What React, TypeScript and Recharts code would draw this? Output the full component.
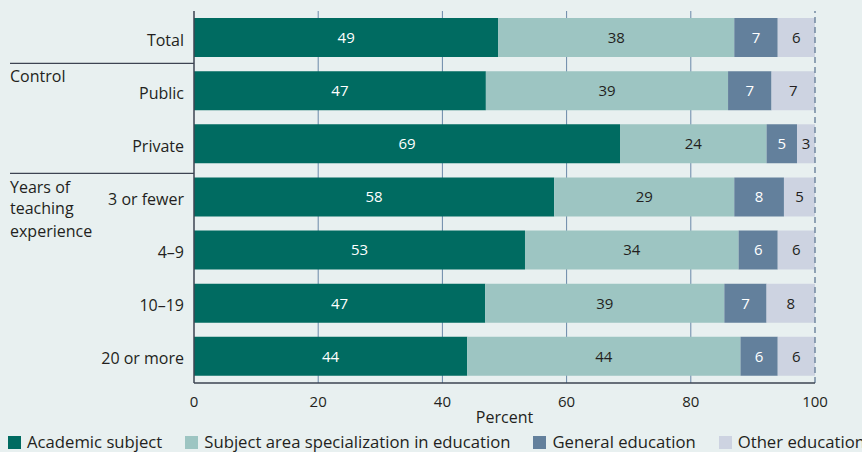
import React from 'react';
import { BarChart, Bar, XAxis, YAxis, CartesianGrid, ReferenceLine, LabelList } from 'recharts';

const categories = ['Total', 'Public', 'Private', '3 or fewer', '4–9', '10–19', '20 or more'];
const academic = [49, 47, 68.6, 58, 53.3, 46.9, 44];
const subjectArea = [38, 39, 23.6, 29, 34.4, 38.5, 44];
const generalEd = [7, 7, 4.9, 8, 6.3, 6.8, 6];
const otherEd = [6, 7, 2.9, 5, 6.0, 7.8, 6];

const seriesNames = ['Academic subject', 'Subject area specialization in education', 'General education', 'Other education'];
const seriesKeys = ['academic', 'subjectArea', 'generalEd', 'otherEd'];
const seriesColors = ['#006b61', '#9dc5c2', '#63809c', '#cdd3e1'];
const labelColors = ['#ffffff', '#231f20', '#ffffff', '#231f20'];

const xTicks = [0, 20, 40, 60, 80, 100];
const gridValues = [20, 40, 60, 80];

const groups = [
  { start: 'Public', lines: ['Control'], lineDy: -27.4, textDy: [-9] },
  { start: '3 or fewer', lines: ['Years of', 'teaching', 'experience'], lineDy: -23.7, textDy: [-4.3, 17.3, 39.5] },
];

const data = categories.map((c, i) => ({
  category: c,
  academic: academic[i],
  subjectArea: subjectArea[i],
  generalEd: generalEd[i],
  otherEd: otherEd[i],
}));

const TEXT = '#231f20';
const AXIS = '#3d4452';
const FONT = "'Open Sans', sans-serif";

const CategoryTick = (props: any) => {
  const { x, y, payload } = props;
  const g = groups.find((gr) => gr.start === payload.value);
  return (
    <g>
      <text x={x} y={y + 8} textAnchor="end" fontSize={16} fill={TEXT} fontFamily={FONT}>
        {payload.value}
      </text>
      {g && (
        <g>
          <line x1={10} x2={x + 10} y1={y + g.lineDy} y2={y + g.lineDy} stroke={AXIS} strokeWidth={1.3} />
          {g.lines.map((l, k) => (
            <text key={k} x={10} y={y + g.textDy[k]} textAnchor="start" fontSize={16} fill={TEXT} fontFamily={FONT}>
              {l}
            </text>
          ))}
        </g>
      )}
    </g>
  );
};

const fmt = (v: any) => Math.round(Number(v));

export default function App() {
  return (
    <div style={{ position: 'fixed', left: 0, top: 0, width: 862, height: 452, background: '#e8f0f0', fontFamily: FONT, overflow: 'hidden' }}>
      <BarChart
        width={862}
        height={452}
        data={data}
        layout="vertical"
        margin={{ top: 11, right: 47, bottom: 27, left: 0 }}
        style={{ fontFamily: FONT }}
      >
        <CartesianGrid
          horizontal={false}
          vertical
          stroke="#6a88a8"
          strokeWidth={1}
          verticalCoordinatesGenerator={({ xAxis, offset }: any) =>
            gridValues.map((v) =>
              xAxis && typeof xAxis.scale === 'function' ? xAxis.scale(v) : offset.left + (offset.width * v) / 100
            )
          }
        />
        <XAxis
          type="number"
          domain={[0, 100]}
          ticks={xTicks}
          interval={0}
          height={42}
          tickLine={false}
          tickSize={0}
          tickMargin={13}
          axisLine={{ stroke: AXIS, strokeWidth: 1.5 }}
          tick={{ fontSize: 15, fill: TEXT, fontFamily: FONT }}
          label={{ value: 'Percent', position: 'insideBottom', offset: 2, fill: TEXT, fontSize: 16, fontFamily: FONT }}
        />
        <YAxis
          type="category"
          dataKey="category"
          width={194}
          tickLine={false}
          tickSize={0}
          tickMargin={10}
          interval={0}
          axisLine={{ stroke: AXIS, strokeWidth: 1.5 }}
          tick={<CategoryTick />}
        />
        {seriesKeys.map((k, i) => (
          <Bar key={k} dataKey={k} name={seriesNames[i]} stackId="a" fill={seriesColors[i]} barSize={39} isAnimationActive={false}>
            <LabelList dataKey={k} position="center" formatter={fmt} fill={labelColors[i]} fontSize={15} fontFamily={FONT} />
          </Bar>
        ))}
        <ReferenceLine x={100} stroke="#7288a0" strokeWidth={1.5} strokeDasharray="6 4" />
      </BarChart>
      <div style={{ position: 'absolute', left: 8, top: 433, display: 'flex', alignItems: 'center', whiteSpace: 'nowrap', color: TEXT, fontSize: 16.7, lineHeight: '18px' }}>
        {seriesNames.map((n, i) => (
          <div key={n} style={{ display: 'flex', alignItems: 'center', marginRight: 23 }}>
            <div style={{ width: 13, height: 13, background: seriesColors[i], marginRight: 6 }} />
            <span>{n}</span>
          </div>
        ))}
      </div>
    </div>
  );
}
